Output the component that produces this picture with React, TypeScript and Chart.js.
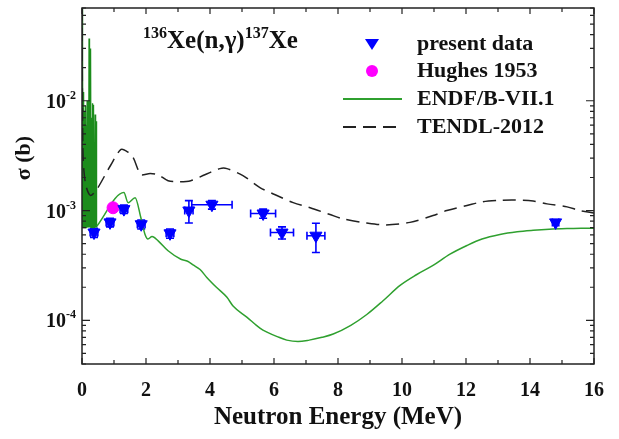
import { useEffect, useRef } from 'react';
import { Chart, registerables } from 'chart.js';
Chart.register(...registerables);

// ENDF/B-VII.1 resolved-resonance region (spiky), step 0.005 MeV
const resE = [0.0, 0.005, 0.01, 0.015, 0.02, 0.025, 0.03, 0.035, 0.04, 0.045, 0.05, 0.055, 0.06, 0.065, 0.07, 0.075, 0.08, 0.085, 0.09, 0.095, 0.1, 0.105, 0.11, 0.115, 0.12, 0.125, 0.13, 0.135, 0.14, 0.145, 0.15, 0.155, 0.16, 0.165, 0.17, 0.175, 0.18, 0.185, 0.19, 0.195, 0.2, 0.205, 0.21, 0.215, 0.22, 0.225, 0.23, 0.235, 0.24, 0.245, 0.25, 0.255, 0.26, 0.265, 0.27, 0.275, 0.28, 0.285, 0.29, 0.295, 0.3, 0.305, 0.31, 0.315, 0.32, 0.325, 0.33, 0.335, 0.34, 0.345, 0.35, 0.355, 0.36, 0.365, 0.37, 0.375, 0.38, 0.385, 0.39, 0.395, 0.4, 0.405, 0.41, 0.415, 0.42, 0.425, 0.43, 0.435, 0.44, 0.445, 0.45, 0.455, 0.46, 0.465];
const resSigma = [0.07, 7e-4, 0.07, 7e-4, 0.07, 7e-4, 0.02, 7e-4, 0.006, 7e-4, 0.004, 7e-4, 0.012, 7e-4, 0.003, 7e-4, 0.008, 7e-4, 0.0025, 7e-4, 0.005, 7e-4, 0.003, 7e-4, 0.009, 7e-4, 0.0028, 7e-4, 0.006, 7e-4, 0.0035, 7e-4, 0.01, 7e-4, 0.003, 7e-4, 0.0045, 7e-4, 0.0026, 7e-4, 0.008, 7e-4, 0.0032, 7e-4, 0.037, 7e-4, 0.003, 7e-4, 0.006, 7e-4, 0.0028, 7e-4, 0.0095, 7e-4, 0.0035, 7e-4, 0.03, 7e-4, 0.0027, 7e-4, 0.007, 7e-4, 0.003, 7e-4, 0.0045, 7e-4, 0.0095, 7e-4, 0.0026, 7e-4, 0.005, 7e-4, 0.003, 7e-4, 0.0092, 7e-4, 0.0028, 7e-4, 0.004, 7e-4, 0.0025, 7e-4, 0.0075, 7e-4, 0.0024, 7e-4, 0.0032, 7e-4, 0.0022, 7e-4, 0.0065, 7e-4, 0.002, 7.2e-4];

// ENDF/B-VII.1 smooth part
const endfE = [0.465, 1.31, 1.44, 1.66, 1.84, 1.97, 2.06, 2.19, 2.38, 2.69, 3.09, 3.3, 3.47, 3.69, 3.9, 4.2, 4.53, 4.72, 5.15, 5.56, 5.78, 6.1, 6.4, 6.75, 7.1, 7.5, 7.85, 8.4, 8.9, 9.4, 9.94, 10.45, 10.97, 11.5, 12.03, 12.5, 13.06, 13.6, 14.1, 14.6, 15.16, 15.6, 16];
const endfSigma = [7.2e-4, 1.46e-3, 1.18e-3, 1.31e-3, 8.6e-4, 6.05e-4, 5.5e-4, 5.8e-4, 5.3e-4, 4.3e-4, 3.6e-4, 3.45e-4, 3.2e-4, 2.9e-4, 2.46e-4, 2.0e-4, 1.62e-4, 1.35e-4, 1.07e-4, 8.5e-5, 7.8e-5, 7.1e-5, 6.6e-5, 6.4e-5, 6.6e-5, 7.0e-5, 7.5e-5, 9.0e-5, 1.13e-4, 1.5e-4, 2.08e-4, 2.6e-4, 3.16e-4, 4.0e-4, 4.8e-4, 5.5e-4, 6.05e-4, 6.4e-4, 6.6e-4, 6.75e-4, 6.85e-4, 6.9e-4, 6.9e-4];

// TENDL-2012
const tendlE = [0.003, 0.012, 0.03, 0.06, 0.12, 0.2, 0.27, 0.35, 0.5, 0.9, 1.22, 1.44, 1.6, 1.75, 1.84, 2.13, 2.38, 2.69, 3.0, 3.4, 3.84, 4.31, 4.53, 5.03, 5.56, 6.09, 6.6, 7.13, 7.75, 8.16, 8.9, 9.5, 10.25, 10.97, 11.4, 12.03, 12.5, 13.06, 13.5, 14.1, 14.53, 15.16, 15.56, 16];
const tendlSigma = [0.07, 0.012, 3.5e-3, 2.3e-3, 1.7e-3, 1.45e-3, 1.37e-3, 1.42e-3, 1.62e-3, 2.6e-3, 3.6e-3, 3.4e-3, 3.03e-3, 2.36e-3, 2.12e-3, 2.17e-3, 2.12e-3, 1.87e-3, 1.83e-3, 1.87e-3, 2.12e-3, 2.41e-3, 2.41e-3, 2.08e-3, 1.62e-3, 1.37e-3, 1.18e-3, 1.06e-3, 9.2e-4, 8.4e-4, 7.7e-4, 7.4e-4, 7.8e-4, 9.0e-4, 1.0e-3, 1.11e-3, 1.2e-3, 1.24e-3, 1.25e-3, 1.22e-3, 1.15e-3, 1.08e-3, 1.0e-3, 9.5e-4];

// present data
const presentE = [0.375, 0.875, 1.31, 1.85, 2.75, 3.34, 4.06, 5.66, 6.25, 7.31, 14.8];
const presentSigma = [6.3e-4, 7.8e-4, 1.03e-3, 7.5e-4, 6.2e-4, 1.0e-3, 1.13e-3, 9.4e-4, 6.3e-4, 5.9e-4, 7.8e-4];
const presentEErr = [0.12, 0.12, 0.12, 0.12, 0.12, 0.13, 0.63, 0.39, 0.36, 0.28, 0.1];
const presentSigmaErr = [6e-5, 7e-5, 9e-5, 7e-5, 6e-5, 2.3e-4, 1.0e-4, 9e-5, 8e-5, 1.75e-4, 4e-5];

// Hughes 1953
const hughesE = [0.97];
const hughesSigma = [1.06e-3];

const xTickLabels = ['0', '2', '4', '6', '8', '10', '12', '14', '16'];
const yDecadeExps = [-2, -3, -4];

const FONT = '"Liberation Serif", "Times New Roman", serif';
const GREEN = '#2fa02f';
const RES_GREEN = '#1c8c1c';
const BLUE = '#0000ff';
const MAGENTA = '#ff00ff';
const DASH = '#222222';

const pts = (xs: number[], ys: number[]) => xs.map((x, i) => ({ x, y: ys[i] }));

const drawPlugin = {
  id: 'custom',
  beforeDatasetsDraw(chart: any) {
    const ctx = chart.ctx;
    const xs = chart.scales.x;
    const ys = chart.scales.y;
    ctx.save();
    ctx.strokeStyle = BLUE;
    ctx.lineWidth = 1.6;
    const cap = 4;
    presentE.forEach((e, i) => {
      const s = presentSigma[i];
      const px = xs.getPixelForValue(e);
      const py = ys.getPixelForValue(s);
      const x1 = xs.getPixelForValue(e - presentEErr[i]);
      const x2 = xs.getPixelForValue(e + presentEErr[i]);
      const y1 = ys.getPixelForValue(s + presentSigmaErr[i]);
      const y2 = ys.getPixelForValue(s - presentSigmaErr[i]);
      ctx.beginPath();
      ctx.moveTo(x1, py); ctx.lineTo(x2, py);
      ctx.moveTo(x1, py - cap); ctx.lineTo(x1, py + cap);
      ctx.moveTo(x2, py - cap); ctx.lineTo(x2, py + cap);
      ctx.moveTo(px, y1); ctx.lineTo(px, y2);
      ctx.moveTo(px - cap, y1); ctx.lineTo(px + cap, y1);
      ctx.moveTo(px - cap, y2); ctx.lineTo(px + cap, y2);
      ctx.stroke();
    });
    ctx.restore();
  },
  afterDraw(chart: any) {
    const ctx = chart.ctx;
    const { left, right, top, bottom } = chart.chartArea;
    const xs = chart.scales.x;
    const ys = chart.scales.y;
    ctx.save();
    // frame
    ctx.strokeStyle = '#222';
    ctx.lineWidth = 1.5;
    ctx.strokeRect(left, top, right - left, bottom - top);
    // x ticks
    ctx.lineWidth = 1.2;
    ctx.beginPath();
    for (let v = 0; v <= 16; v += 1) {
      const px = xs.getPixelForValue(v);
      const len = v % 2 === 0 ? 6 : 4;
      ctx.moveTo(px, bottom); ctx.lineTo(px, bottom - len);
      ctx.moveTo(px, top); ctx.lineTo(px, top + len);
    }
    // y ticks
    for (let d = -5; d <= -1; d++) {
      for (let m = 1; m <= 9; m++) {
        const v = m * Math.pow(10, d);
        if (v < ys.min || v > ys.max) continue;
        const py = ys.getPixelForValue(v);
        const len = m === 1 ? 8 : 4;
        ctx.moveTo(left, py); ctx.lineTo(left + len, py);
        ctx.moveTo(right, py); ctx.lineTo(right - len, py);
      }
    }
    ctx.stroke();

    ctx.fillStyle = '#111';
    // x tick labels
    ctx.font = `bold 20px ${FONT}`;
    ctx.textAlign = 'center';
    ctx.textBaseline = 'middle';
    xTickLabels.forEach((t) => {
      ctx.fillText(t, xs.getPixelForValue(Number(t)), 391);
    });
    // y tick labels with superscripts
    yDecadeExps.forEach((d) => {
      const py = ys.getPixelForValue(Math.pow(10, d));
      const sup = String(d);
      ctx.font = `bold 12px ${FONT}`;
      const sw = ctx.measureText(sup).width;
      ctx.textAlign = 'left';
      ctx.textBaseline = 'middle';
      ctx.fillText(sup, 76 - sw, py - 5);
      ctx.font = `bold 20px ${FONT}`;
      ctx.textAlign = 'right';
      ctx.fillText('10', 76 - sw, py + 2);
    });
    // x title
    ctx.font = `bold 25px ${FONT}`;
    ctx.textAlign = 'center';
    ctx.textBaseline = 'middle';
    ctx.fillText('Neutron Energy (MeV)', (left + right) / 2, 418);
    // y title
    ctx.save();
    ctx.translate(24, 158);
    ctx.rotate(-Math.PI / 2);
    ctx.font = `bold 22px ${FONT}`;
    ctx.fillText('σ (b)', 0, 0);
    ctx.restore();
    // chart title
    ctx.textAlign = 'left';
    ctx.textBaseline = 'alphabetic';
    let x = 143;
    const base = 48;
    const parts: [string, boolean][] = [['136', true], ['Xe(n,γ)', false], ['137', true], ['Xe', false]];
    parts.forEach(([t, sup]) => {
      ctx.font = sup ? `bold 16px ${FONT}` : `bold 25px ${FONT}`;
      ctx.fillText(t, x, sup ? base - 10 : base);
      x += ctx.measureText(t).width;
    });
    // legend
    const lx = 372;
    const tx = 417;
    const rows = [44, 71, 99, 127];
    ctx.fillStyle = BLUE;
    ctx.beginPath();
    ctx.moveTo(lx - 7, rows[0] - 5);
    ctx.lineTo(lx + 7, rows[0] - 5);
    ctx.lineTo(lx, rows[0] + 6);
    ctx.closePath();
    ctx.fill();
    ctx.fillStyle = MAGENTA;
    ctx.beginPath();
    ctx.arc(lx, rows[1], 6, 0, Math.PI * 2);
    ctx.fill();
    ctx.strokeStyle = GREEN;
    ctx.lineWidth = 2;
    ctx.beginPath();
    ctx.moveTo(343, rows[2]); ctx.lineTo(402, rows[2]);
    ctx.stroke();
    ctx.strokeStyle = DASH;
    ctx.setLineDash([13, 7]);
    ctx.beginPath();
    ctx.moveTo(343, rows[3]); ctx.lineTo(402, rows[3]);
    ctx.stroke();
    ctx.setLineDash([]);
    ctx.fillStyle = '#111';
    ctx.font = `bold 22px ${FONT}`;
    ctx.textBaseline = 'middle';
    ['present data', 'Hughes 1953', 'ENDF/B-VII.1', 'TENDL-2012'].forEach((t, i) => {
      ctx.fillText(t, tx, rows[i]);
    });
    ctx.restore();
  },
};

export default function App() {
  const ref = useRef<HTMLCanvasElement>(null);
  useEffect(() => {
    document.body.style.margin = '0';
    const canvas = ref.current!;
    const chart = new Chart(canvas, {
      type: 'scatter',
      data: {
        datasets: [
          {
            label: 'present data',
            data: pts(presentE, presentSigma),
            backgroundColor: BLUE,
            borderColor: BLUE,
            pointStyle: 'triangle',
            rotation: 180,
            pointRadius: 7,
            showLine: false,
            order: 0,
          },
          {
            label: 'Hughes 1953',
            data: pts(hughesE, hughesSigma),
            backgroundColor: MAGENTA,
            borderColor: MAGENTA,
            pointStyle: 'circle',
            pointRadius: 6,
            showLine: false,
            order: 1,
          },
          {
            label: 'ENDF/B-VII.1 resonances',
            data: pts(resE, resSigma),
            borderColor: RES_GREEN,
            borderWidth: 1.3,
            pointRadius: 0,
            showLine: true,
            tension: 0,
            order: 4,
          },
          {
            label: 'ENDF/B-VII.1',
            data: pts(endfE, endfSigma),
            borderColor: GREEN,
            borderWidth: 1.5,
            pointRadius: 0,
            showLine: true,
            cubicInterpolationMode: 'monotone',
            order: 3,
          },
          {
            label: 'TENDL-2012',
            data: pts(tendlE, tendlSigma),
            borderColor: DASH,
            borderWidth: 1.5,
            borderDash: [13, 7],
            pointRadius: 0,
            showLine: true,
            tension: 0.3,
            order: 2,
          },
        ],
      },
      options: {
        animation: false,
        responsive: false,
        devicePixelRatio: 1,
        layout: { padding: { left: 0, top: 6, right: 25, bottom: 0 } },
        plugins: { legend: { display: false }, tooltip: { enabled: false }, title: { display: false } },
        scales: {
          x: {
            type: 'linear',
            min: 0,
            max: 16,
            ticks: { display: false },
            grid: { display: false },
            border: { display: false },
            afterFit: (s: any) => { s.height = 75; },
          },
          y: {
            type: 'logarithmic',
            min: 4e-5,
            max: 0.07,
            ticks: { display: false },
            grid: { display: false },
            border: { display: false },
            afterFit: (s: any) => { s.width = 82; },
          },
        },
      } as any,
      plugins: [drawPlugin],
    });
    return () => chart.destroy();
  }, []);
  return <canvas ref={ref} width={619} height={439} style={{ display: 'block' }} />;
}
